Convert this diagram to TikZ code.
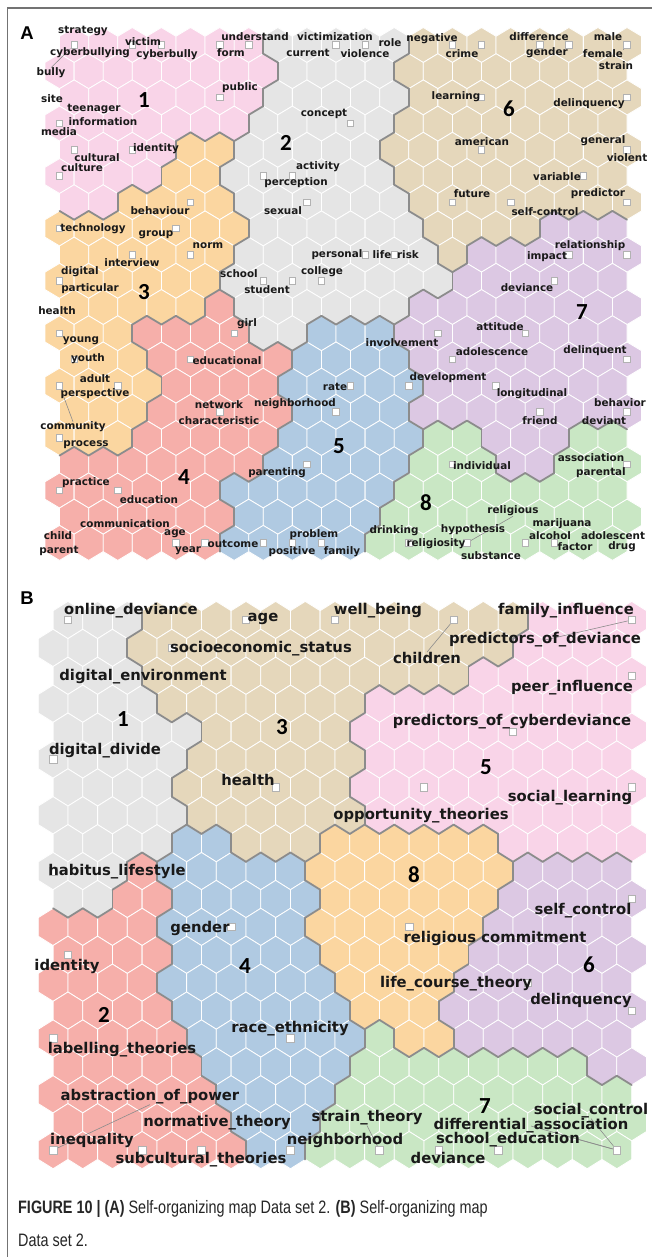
\documentclass[tikz,border=0pt]{standalone}
\usepackage{fontspec}
\setmainfont{DejaVu Sans}
\newfontfamily\numfont{Carlito}
\newfontfamily\panelfont{Liberation Sans}
\newfontfamily\capfont[FakeStretch=0.8]{Liberation Sans}
\definecolor{somp}{RGB}{249,212,232}
\definecolor{somg}{RGB}{229,229,229}
\definecolor{somo}{RGB}{251,214,160}
\definecolor{somr}{RGB}{246,175,170}
\definecolor{somb}{RGB}{176,202,226}
\definecolor{somt}{RGB}{229,215,187}
\definecolor{somv}{RGB}{220,200,227}
\definecolor{somn}{RGB}{201,231,196}
\definecolor{somline}{RGB}{140,140,140}
\pgfdeclarelayer{hexes}\pgfdeclarelayer{leaders}\pgfsetlayers{hexes,leaders,main}
\newcount\somcol
\def\somsetrow#1#2#3{\def\sompanel{#1}\def\somrow{#2}\somcol=0\relax\somread#3\relax}
\def\somread#1{\ifx\relax#1\else\expandafter\xdef\csname cell\sompanel-\somrow-\the\somcol\endcsname{#1}\advance\somcol by 1\relax\expandafter\somread\fi}
\newcommand\somedge[7]{\ifcsname cell#1-#4-#5\endcsname\edef\ka{\csname cell#1-#2-#3\endcsname}\edef\kb{\csname cell#1-#4-#5\endcsname}\ifx\ka\kb\else\draw[bnd] #6 -- #7;\fi\fi}
\newcommand\somgrid[5]{%
\foreach \rr in {0,...,19}{\foreach \cc in {0,...,19}{%
 \pgfmathsetmacro\hx{#2+#4*\cc+(mod(\rr,2)==0?#4/2:0)}\pgfmathsetmacro\hy{#3+1.5*#5*\rr}%
 \edef\k{\csname cell#1-\rr-\cc\endcsname}%
 \fill[fill=som\k,draw=white,line width=.8pt] (\hx,\hy) +(0,-#5) -- +(#4/2,-#5/2) -- +(#4/2,#5/2) -- +(0,#5) -- +(-#4/2,#5/2) -- +(-#4/2,-#5/2) -- cycle;}}%
\foreach \rr in {0,...,19}{\foreach \cc in {0,...,19}{%
 \pgfmathsetmacro\hx{#2+#4*\cc+(mod(\rr,2)==0?#4/2:0)}\pgfmathsetmacro\hy{#3+1.5*#5*\rr}%
 \pgfmathtruncatemacro\rb{\rr+1}\pgfmathtruncatemacro\cn{\cc+1}%
 \pgfmathtruncatemacro\cl{\cc-mod(\rr,2)}\pgfmathtruncatemacro\cd{\cc+1-mod(\rr,2)}%
 \somedge{#1}{\rr}{\cc}{\rr}{\cn}{(\hx+#4/2,\hy-#5/2)}{(\hx+#4/2,\hy+#5/2)}%
 \somedge{#1}{\rr}{\cc}{\rb}{\cl}{(\hx,\hy+#5)}{(\hx-#4/2,\hy+#5/2)}%
 \somedge{#1}{\rr}{\cc}{\rb}{\cd}{(\hx+#4/2,\hy+#5/2)}{(\hx,\hy+#5)}}}}
\somsetrow{A}{0}{ppppppp ggggg tttttttt}
\somsetrow{A}{1}{pppppppp gggg tttttttt}
\somsetrow{A}{2}{ppppppp ggggg tttttttt}
\somsetrow{A}{3}{ppppppp ggggg tttttttt}
\somsetrow{A}{4}{pppp oo ggggg ttttttttt}
\somsetrow{A}{5}{pppp oo gggggg tttttttt}
\somsetrow{A}{6}{pp oooo gggggg tttttttt}
\somsetrow{A}{7}{ooooooo gggggg tttt vvv}
\somsetrow{A}{8}{oooooo ggggggg t vvvvvv}
\somsetrow{A}{9}{oooooo gggggggg vvvvvv}
\somsetrow{A}{10}{ooooo r gggggg vvvvvvvv}
\somsetrow{A}{11}{ooo rrrr gg bbb vvvvvvvv}
\somsetrow{A}{12}{ooo rrrrr bbbb vvvvvvvv}
\somsetrow{A}{13}{oooo rrrr bbbbb vvvvvvv}
\somsetrow{A}{14}{ooo rrrrr bbbb vvvvvvvv}
\somsetrow{A}{15}{ooo rrrrr bbbbb nn vvv nn}
\somsetrow{A}{16}{rrrrrrr bbbbb nnn vv nnn}
\somsetrow{A}{17}{rrrrrr bbbbbb nnnnnnnn}
\somsetrow{A}{18}{rrrrrr bbbbb nnnnnnnnn}
\somsetrow{A}{19}{rrrrrr bbbbb nnnnnnnnn}
\somsetrow{B}{0}{ggg ttttttttttttt pppp}
\somsetrow{B}{1}{ggg ttttttttttttt pppp}
\somsetrow{B}{2}{ggg ttttttttttt pppppp}
\somsetrow{B}{3}{gggg ttttttt ppppppppp}
\somsetrow{B}{4}{ggggg ttttt pppppppppp}
\somsetrow{B}{5}{ggggg tttttt ppppppppp}
\somsetrow{B}{6}{gggg tttttt pppppppppp}
\somsetrow{B}{7}{ggggg tttttt ppppppppp}
\somsetrow{B}{8}{gggg bb ttt oooooo ppppp}
\somsetrow{B}{9}{ggg r bbbbb ooooooo vvvv}
\somsetrow{B}{10}{gg rr bbbbb oooooo vvvvv}
\somsetrow{B}{11}{rrrr bbbbb oooooo vvvvv}
\somsetrow{B}{12}{rrrr bbbbb ooooo vvvvvv}
\somsetrow{B}{13}{rrrr bbbbbb oooo vvvvvv}
\somsetrow{B}{14}{rrrr bbbbbb ooo vvvvvvv}
\somsetrow{B}{15}{rrrrr bbbbbb n oo vvvvvv}
\somsetrow{B}{16}{rrrrr bbbbb nnnnnnnn vv}
\somsetrow{B}{17}{rrrrrr bbbb nnnnnnnnnn}
\somsetrow{B}{18}{rrrrrr bbb nnnnnnnnnnn}
\somsetrow{B}{19}{rrrrrrr bb nnnnnnnnnnn}
\begin{document}
\begin{tikzpicture}[x=1pt,y=-1pt,
  lblA/.style={font=\bfseries\fontsize{10.4}{12}\selectfont,inner sep=0pt,text=black!90},
  lblB/.style={font=\bfseries\fontsize{14.8}{17}\selectfont,inner sep=0pt,text=black!90},
  num/.style={font=\numfont\bfseries\fontsize{23}{23}\selectfont,inner sep=0pt},
  panel/.style={font=\panelfont\bfseries\fontsize{18.5}{20}\selectfont,inner sep=0pt},
  boxA/.style={draw=black!30,fill=white,line width=.7pt,minimum size=6.5pt,inner sep=0pt},
  boxB/.style={boxA,minimum size=7.5pt},
  leader/.style={draw=black!45,line width=.6pt},
  bnd/.style={draw=somline,line width=1.8pt,line cap=round},
  caption/.style={anchor=base west,inner sep=0pt,font=\capfont\fontsize{18}{21}\selectfont,text=black!85}]
\useasboundingbox (0,0) rectangle (652,1257);
\begin{pgfonlayer}{hexes}
\fill[white] (0,0) rectangle (652,1257);
\somgrid{A}{59.55}{45}{29.1}{17.47}
\somgrid{B}{53.1}{620}{29.67}{18.6}
\end{pgfonlayer}
\draw[black!55,line width=1.3pt] (7.5,1257) -- (7.5,8) -- (652,8);
\node[panel] (pA) at (27,33) {A}; \node[panel] (pB) at (27,598) {B};
\foreach \rr/\cc in {0/0,0/2,0/3,0/5,0/6,0/9,0/10,0/13,0/14,0/16,0/17,0/19,2/5,2/14,2/19,3/0,3/10,4/0,4/2,4/14,4/19,
  5/0,5/7,5/8,5/18,6/4,6/8,6/13,6/15,6/19,7/0,7/4,8/2,8/4,8/10,8/11,8/17,8/19,9/0,9/7,9/8,9/9,9/17,
  11/0,11/6,11/13,11/16,12/0,12/4,12/13,12/19,13/0,13/2,13/10,13/12,13/15,14/5,14/9,14/16,14/19,15/0,
  16/8,16/13,16/19,17/0,17/2,19/4,19/5,19/7,19/8,19/9,19/12,19/14,19/16,19/17}
  {\pgfmathsetmacro\hx{59.55+29.1*\cc+(mod(\rr,2)==0?14.55:0)}\pgfmathsetmacro\hy{45+26.2*\rr}
   \node[boxA] (a-\rr-\cc) at (\hx,\hy) {};}
\foreach \rr/\cc in {0/0,0/6,0/9,0/13,0/19,1/4,2/19,4/15,5/0,6/7,6/12,6/19,9/0,10/19,11/6,11/12,12/0,13/16,14/19,
  15/0,15/8,19/0,19/3,19/5,19/8,19/11,19/13,19/15,19/19}
  {\pgfmathsetmacro\hx{53.1+29.67*\cc+(mod(\rr,2)==0?14.835:0)}\pgfmathsetmacro\hy{620+27.9*\rr}
   \node[boxB] (b-\rr-\cc) at (\hx,\hy) {};}
\foreach \lbl/\x/\y in {strategy/83/31,cyberbullying/90/53,bully/51/73,victim/143/42,cyberbully/167/55,understand/255/37,
  form/231/53,public/240/88,site/52/99,teenager/94/109,information/103/122,media/59/132,identity/156/149,
  cultural/97/158,culture/82/168,behaviour/160/211,technology/93/229,group/156/235,norm/208/246,interview/132/263,
  digital/80/272,particular/90/289,health/57/311,young/81/341,youth/88/359,adult/95/379,perspective/95/394,
  community/73/427,process/86/445,practice/86/483,education/149/500,communication/125/524,child/58/536,
  parent/59/551,age/175/534,year/188/551,outcome/233/544,positive/292/552,problem/314/535,family/342/552,
  girl/247/324,educational/227/361,network/219/405,characteristic/219/421,neighborhood/295/404,parenting/277/473,
  school/239/274,student/267/290,college/322/272,personal/337/255,life/382/255,risk/408/255,sexual/283/211,
  activity/318/167,perception/296/183,concept/324/114,victimization/335/37,current/308/53,role/390/43,
  violence/365/54,negative/432/39,crime/462/54,difference/539/37,gender/547/53,male/608/37,female/603/54,
  strain/616/66,learning/456/97,delinquency/589/104,american/482/142,general/603/141,violent/627/158,
  variable/557/177,future/472/194,predictor/598/194,self-control/545/212,relationship/590/246,impact/547/257,
  deviance/527/288,attitude/500/327,involvement/402/343,adolescence/492/352,delinquent/595/351,
  development/448/378,rate/335/387,longitudinal/532/394,behavior/620/403,friend/540/421,deviant/604/421,
  individual/482/466,association/591/458,parental/601/473,religious/513/511,marijuana/562/524,
  hypothesis/473/530,drinking/394/531,alcohol/550/536,adolescent/613/536,religiosity/436/544,factor/575/547,
  drug/622/547,substance/491/556}
  \node[lblA] (a-\lbl) at (\x,\y) {\lbl};
\node[num] (nA1) at (144,100) {1}; \node[num] (nA2) at (286,143) {2}; \node[num] (nA3) at (144,292) {3};
\node[num] (nA4) at (184,477) {4}; \node[num] (nA5) at (339,446) {5}; \node[num] (nA6) at (509,109) {6};
\node[num] (nA7) at (582,312) {7}; \node[num] (nA8) at (426,503) {8};
\node[lblB] (b-online) at (131,611) {online\_deviance};
\node[lblB] (b-age) at (263,619) {age};
\node[lblB] (b-socio) at (261,649) {socioeconomic\_status};
\node[lblB] (b-well) at (378,611) {well\_being};
\node[lblB] (b-children) at (427,658) {children};
\node[lblB] (b-family) at (566,611) {family\_influence};
\node[lblB] (b-pod) at (545,640) {predictors\_of\_deviance};
\node[lblB] (b-digenv) at (143,677) {digital\_environment};
\node[lblB] (b-peer) at (572,688) {peer\_influence};
\node[lblB] (b-pocd) at (512,722) {predictors\_of\_cyberdeviance};
\node[lblB] (b-digdiv) at (105,751) {digital\_divide};
\node[lblB] (b-health) at (248,780) {health};
\node[lblB] (b-soclearn) at (570,798) {social\_learning};
\node[lblB] (b-opp) at (421,816) {opportunity\_theories};
\node[lblB] (b-habitus) at (117,872) {habitus\_lifestyle};
\node[lblB] (b-selfctl) at (583,911) {self\_control};
\node[lblB] (b-gender) at (200,928) {gender};
\node[lblB] (b-relcom) at (495,938) {religious commitment};
\node[lblB] (b-identity) at (67,966) {identity};
\node[lblB] (b-lct) at (456,984) {life\_course\_theory};
\node[lblB] (b-delinq) at (581,1000) {delinquency};
\node[lblB] (b-race) at (290,1029) {race\_ethnicity};
\node[lblB] (b-label) at (122,1050) {labelling\_theories};
\node[lblB] (b-abstr) at (150,1097) {abstraction\_of\_power};
\node[lblB] (b-socctl) at (591,1111) {social\_control};
\node[lblB] (b-strain) at (367,1118) {strain\_theory};
\node[lblB] (b-norm) at (217,1123) {normative\_theory};
\node[lblB] (b-diffass) at (531,1126) {differential\_association};
\node[lblB] (b-ineq) at (92,1140) {inequality};
\node[lblB] (b-neigh) at (345,1140) {neighborhood};
\node[lblB] (b-schedu) at (508,1140) {school\_education};
\node[lblB] (b-deviance) at (448,1158) {deviance};
\node[lblB] (b-subcult) at (201,1160) {subcultural\_theories};
\node[num] (nB1) at (123,719) {1}; \node[num] (nB2) at (104,1015) {2}; \node[num] (nB3) at (282,727) {3};
\node[num] (nB4) at (245,966) {4}; \node[num] (nB5) at (486,767) {5}; \node[num] (nB6) at (589,965) {6};
\node[num] (nB7) at (485,1106) {7}; \node[num] (nB8) at (414,875) {8};
\begin{pgfonlayer}{leaders}
\draw[leader] (a-0-0) -- (a-bully.north); \draw[leader] (a-13-0) -- (a-community.north);
\draw[leader] (a-0-19) -- (a-female.north east); \draw[leader] (a-19-14) -- (a-religious.south);
\draw[leader] (b-0-13) -- (b-children.north); \draw[leader] (b-0-19) -- (b-pod.center);
\draw[leader] (b-19-0) -- (b-abstr.south); \draw[leader] (b-strain.south) -- (b-19-11);
\draw[leader] (b-19-19) -- (b-socctl.south); \draw[leader] (b-19-19) -- (b-diffass.center);
\draw[leader] (b-19-19) -- (b-schedu.east);
\end{pgfonlayer}
\node[caption] (cap1) at (18,1213) {\textbf{FIGURE 10 | (A)} Self-organizing map Data set 2. \textbf{(B)} Self-organizing map};
\node[caption] (cap2) at (18,1246) {Data set 2.};
\end{tikzpicture}
\end{document}
